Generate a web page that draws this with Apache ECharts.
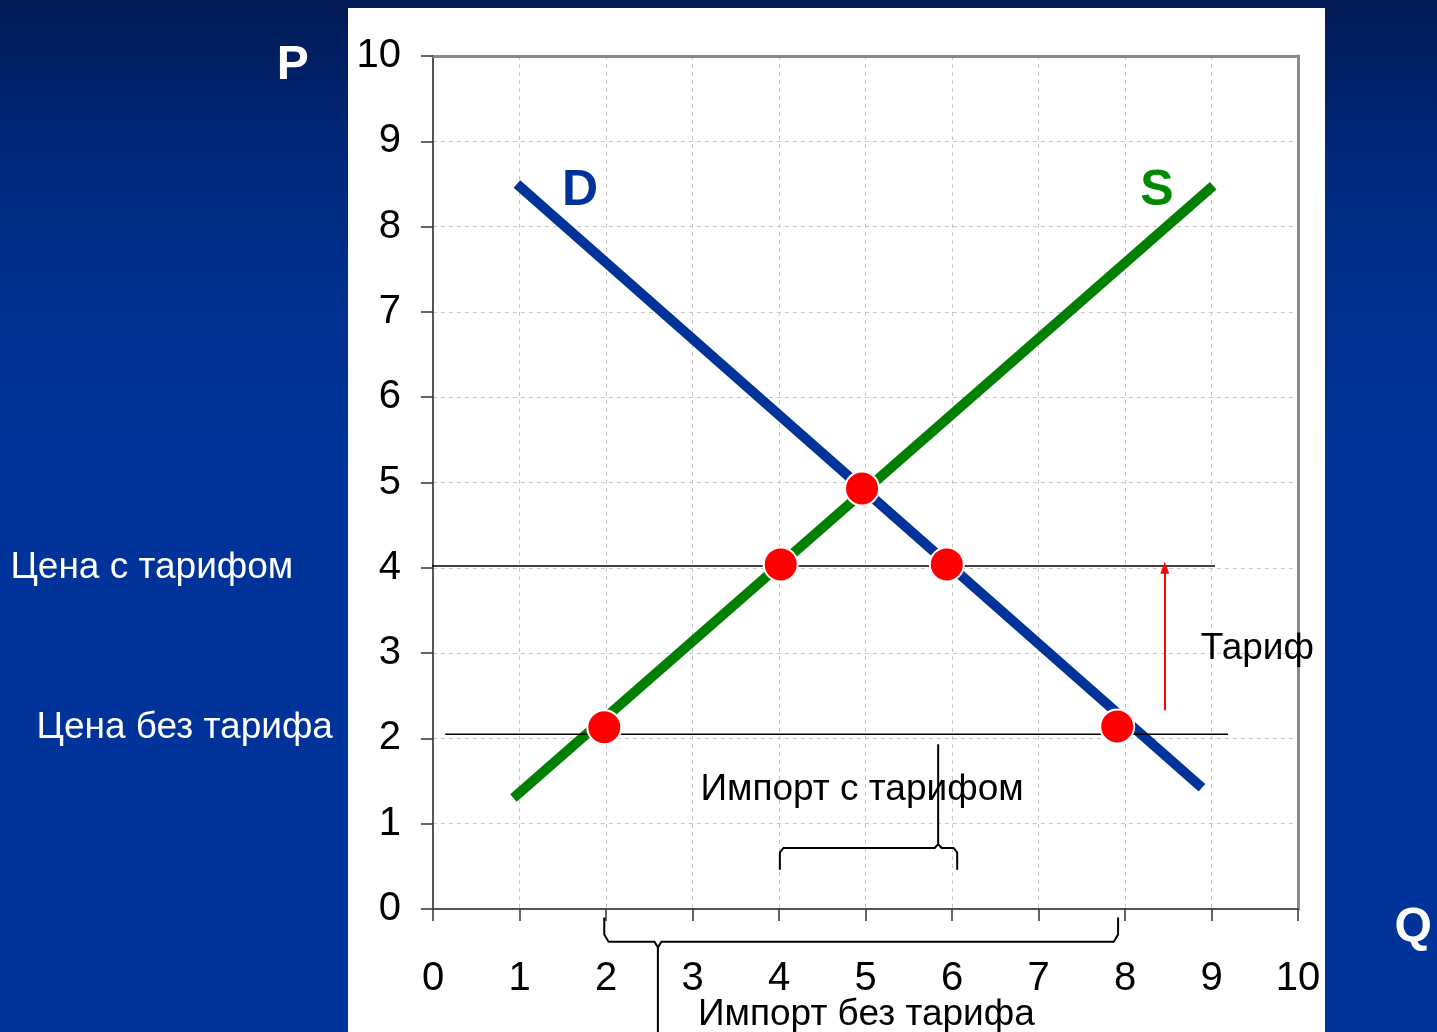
<!DOCTYPE html>
<html><head><meta charset="utf-8">
<script src="https://cdn.jsdelivr.net/npm/echarts@6/dist/echarts.min.js"></script>
<style>
html,body{margin:0;padding:0;width:1437px;height:1032px;overflow:hidden;
background:linear-gradient(to bottom,#001a55 0%,#00287a 15%,#003190 30%,#003399 45%,#003399 100%);}
#panel{position:absolute;left:348px;top:8px;width:977px;height:1030px;background:#fff;}
#chart{position:absolute;left:0;top:0;width:1437px;height:1032px;}
</style></head>
<body><div id="panel"></div><div id="chart"></div>
<script>
// Demand and supply line endpoints [Q, P]
const demand = [[0.97, 8.50], [8.89, 1.42]];
const supply = [[0.93, 1.30], [9.02, 8.48]];
// Price lines
const priceWithTariff = [[-0.15, 4.02], [9.04, 4.02]];
const priceNoTariff = [[0.14, 2.05], [9.19, 2.05]];
// Key points
const keyPoints = [[1.98, 2.13], [4.02, 4.04], [4.96, 4.93], [5.94, 4.04], [7.91, 2.14]];
// Tariff arrow
const tariffArrow = [[8.46, 2.33], [8.46, 4.0]];
// Braces
const braceWithTariff = [[4.01, 0.46], [4.01, 0.66], [4.05, 0.715], [5.80, 0.715], [5.84, 0.76], [5.84, 1.93], [5.84, 0.76], [5.88, 0.715], [6.02, 0.715], [6.06, 0.66], [6.06, 0.46]];
const braceNoTariff = [[1.98, -0.10], [1.98, -0.30], [2.03, -0.385], [2.56, -0.385], [2.60, -0.45], [2.60, -1.50], [2.60, -0.45], [2.64, -0.385], [7.87, -0.385], [7.92, -0.30], [7.92, -0.10]];
// Tick labels
const ticks = ['0','1','2','3','4','5','6','7','8','9','10'];
// Text annotations [Q, P, text]
const innerTexts = [[4.96, 1.40, 'Импорт с тарифом'], [5.01, -1.24, 'Импорт без тарифа'], [9.53, 3.05, 'Тариф']];
const sideTexts = [[-3.25, 4.00, 'Цена с тарифом'], [-2.87, 2.12, 'Цена без тарифа']];
const axisLetters = [[-1.62, 9.88, 'P'], [11.33, -0.22, 'Q']];
const curveLetters = [[1.70, 8.41, 'D', '#003399'], [8.37, 8.41, 'S', '#008a00']];

const chart = echarts.init(document.getElementById('chart'), null, {renderer: 'canvas'});
const FONT = 'Liberation Sans, Arial, sans-serif';
function textSeries(arr, style) {
  return {
    type: 'scatter', clip: false, silent: true, symbolSize: 1, z: 6,
    itemStyle: {color: 'rgba(0,0,0,0)', opacity: 1},
    data: arr.map(d => ({value: [d[0], d[1]], name: d[2], label: d[3] ? {color: d[3]} : undefined})),
    label: Object.assign({show: true, position: 'inside', formatter: p => p.name, fontFamily: FONT}, style)
  };
}
const baseAxis = {
  type: 'value', min: 0, max: 10, interval: 1,
  axisLine: {show: true, lineStyle: {color: '#555', width: 2}},
  axisTick: {show: true, length: 12, lineStyle: {color: '#333', width: 1.5}},
  splitLine: {show: true, lineStyle: {color: '#c8c8c8', type: [4, 4], width: 1}}
};
const borderAxis = {
  type: 'value', min: 0, max: 10, interval: 1,
  axisLine: {show: true, onZero: false, lineStyle: {color: '#8a8a8a', width: 3}},
  axisTick: {show: false}, axisLabel: {show: false}, splitLine: {show: false}
};
chart.setOption({
  backgroundColor: 'transparent',
  animation: false,
  grid: {left: 433, right: 139, top: 56, bottom: 123},
  xAxis: [
    Object.assign({}, baseAxis, {axisLabel: {margin: 50, color: '#000', fontSize: 40, fontFamily: FONT, formatter: v => ticks[Math.round(v)]}}),
    Object.assign({}, borderAxis, {position: 'top'})
  ],
  yAxis: [
    Object.assign({}, baseAxis, {axisLabel: {margin: 32, color: '#000', fontSize: 40, fontFamily: FONT, formatter: v => ticks[Math.round(v)]}}),
    Object.assign({}, borderAxis, {position: 'right'})
  ],
  series: [
    {type: 'line', data: demand, symbol: 'none', clip: false, z: 2, lineStyle: {color: '#003399', width: 10, cap: 'butt'}},
    {type: 'line', data: supply, symbol: 'none', clip: false, z: 2, lineStyle: {color: '#008000', width: 10, cap: 'butt'}},
    {type: 'line', data: priceWithTariff, symbol: 'none', clip: false, z: 3, lineStyle: {color: '#000', width: 1.5}},
    {type: 'line', data: priceNoTariff, symbol: 'none', clip: false, z: 3, lineStyle: {color: '#000', width: 1.5}},
    {type: 'line', data: braceWithTariff, symbol: 'none', clip: false, z: 3, lineStyle: {color: '#000', width: 2}},
    {type: 'line', data: braceNoTariff, symbol: 'none', clip: false, z: 3, lineStyle: {color: '#000', width: 2}},
    {type: 'line', data: [], symbol: 'none', z: 3,
      markLine: {silent: true, symbol: ['none', 'triangle'], symbolSize: [9, 12], label: {show: false},
        lineStyle: {color: '#ff0000', width: 2, type: 'solid'},
        data: [[{coord: tariffArrow[0]}, {coord: tariffArrow[1]}]]}},
    {type: 'scatter', data: keyPoints, symbol: 'circle', symbolSize: 34, z: 5, clip: false,
      itemStyle: {color: '#ff0000', borderColor: '#fff', borderWidth: 2, opacity: 1}},
    textSeries(innerTexts, {fontSize: 37, color: '#000'}),
    textSeries(sideTexts, {fontSize: 37, color: '#fff'}),
    textSeries(axisLetters, {fontSize: 48, color: '#fff', fontWeight: 'bold'}),
    textSeries(curveLetters, {fontSize: 50, fontWeight: 'bold'})
  ]
});
</script></body></html>
